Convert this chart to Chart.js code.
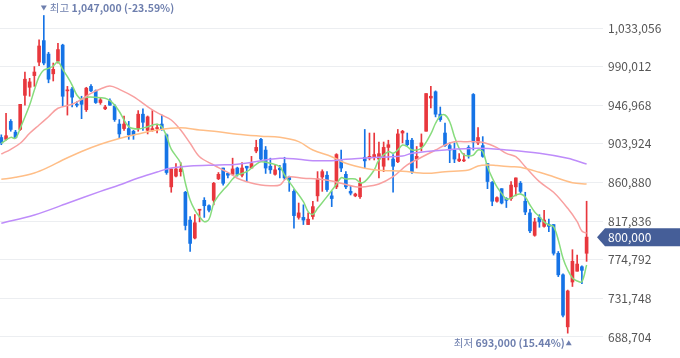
<!DOCTYPE html>
<html>
<head>
<meta charset="utf-8">
<script src="https://cdn.jsdelivr.net/npm/chart.js@4"></script>
<style>
    html, body { margin: 0; padding: 0; background: #fff; }
</style>
</head>
<body>
<canvas id="chartCandle" width="680" height="358"></canvas>
<script>
// daily candles, won
const openPrices = [
    911000, 909000, 929000, 917000, 920000, 958000, 967000, 980000, 995000, 1019000,
    1004000, 982000, 996000, 1014000, 963000, 965000, 948000, 953000, 942000, 968000,
    963000, 950000, 943000, 952000, 946000, 926000, 921000, 921000, 918000, 921000,
    937000, 919000, 919000, 921000, 926000, 914000, 856000, 868000, 873000, 850000,
    819000, 799000, 830000, 841000, 835000, 841000, 865000, 877000, 871000, 870000,
    877000, 869000, 879000, 877000, 896000, 909000, 897000, 879000, 870000, 877000,
    882000, 867000, 851000, 822000, 822000, 814000, 823000, 846000, 867000, 869000,
    846000, 856000, 885000, 870000, 851000, 846000, 845000, 889000, 888000, 889000,
    887000, 879000, 900000, 887000, 884000, 916000, 908000, 908000, 887000, 901000,
    918000, 955000, 962000, 937000, 916000, 902000, 897000, 885000, 885000, 900000,
    959000, 905000, 902000, 882000, 861000, 840000, 854000, 843000, 843000, 856000,
    860000, 840000, 827000, 802000, 822000, 812000, 814000, 814000, 782000, 758000,
    700000, 750000, 762000, 767000, 782000
];
const highPrices = [
    914000, 938000, 931000, 919000, 948000, 984000, 977000, 990000, 1020000, 1047000,
    1006000, 994000, 1016000, 1015000, 968000, 967000, 951000, 957000, 967000, 970000,
    964000, 955000, 947000, 954000, 948000, 931000, 935000, 929000, 919000, 941000,
    943000, 935000, 941000, 926000, 936000, 915000, 876000, 882000, 883000, 851000,
    823000, 825000, 831000, 844000, 836000, 861000, 872000, 877000, 872000, 888000,
    878000, 883000, 879000, 890000, 908000, 910000, 901000, 888000, 880000, 880000,
    889000, 868000, 853000, 838000, 836000, 827000, 840000, 873000, 875000, 873000,
    851000, 893000, 897000, 873000, 857000, 849000, 866000, 920000, 916000, 916000,
    906000, 906000, 908000, 892000, 920000, 919000, 916000, 910000, 901000, 915000,
    960000, 968000, 963000, 945000, 927000, 905000, 905000, 893000, 893000, 902000,
    960000, 922000, 912000, 882000, 862000, 845000, 854000, 844000, 862000, 866000,
    862000, 850000, 831000, 821000, 825000, 830000, 820000, 814000, 784000, 759000,
    741000, 786000, 780000, 768000, 840000
];
const lowPrices = [
    903000, 908000, 918000, 910000, 919000, 947000, 957000, 968000, 991000, 992000,
    972000, 974000, 994000, 946000, 936000, 945000, 945000, 932000, 940000, 962000,
    949000, 948000, 942000, 947000, 929000, 910000, 919000, 909000, 909000, 918000,
    919000, 915000, 918000, 916000, 919000, 870000, 850000, 867000, 868000, 808000,
    784000, 798000, 817000, 822000, 828000, 836000, 864000, 858000, 866000, 869000,
    868000, 867000, 862000, 877000, 894000, 886000, 871000, 871000, 869000, 866000,
    864000, 851000, 810000, 820000, 814000, 814000, 820000, 840000, 851000, 851000,
    834000, 854000, 873000, 854000, 847000, 845000, 843000, 877000, 886000, 886000,
    866000, 873000, 886000, 850000, 883000, 905000, 902000, 871000, 877000, 896000,
    918000, 944000, 934000, 929000, 901000, 883000, 883000, 884000, 884000, 888000,
    897000, 903000, 889000, 854000, 835000, 839000, 837000, 833000, 841000, 846000,
    849000, 825000, 805000, 801000, 811000, 811000, 806000, 780000, 756000, 711000,
    693000, 745000, 762000, 748000, 773000
];
const closePrices = [
    905000, 913000, 920000, 911000, 948000, 976000, 973000, 984000, 1013000, 994000,
    976000, 987000, 1009000, 957000, 964000, 956000, 947000, 948000, 966000, 963000,
    950000, 953000, 945000, 947000, 931000, 915000, 926000, 914000, 914000, 937000,
    928000, 934000, 921000, 922000, 920000, 872000, 876000, 876000, 876000, 813000,
    793000, 816000, 831000, 835000, 830000, 860000, 870000, 860000, 869000, 876000,
    870000, 877000, 877000, 882000, 900000, 887000, 877000, 875000, 875000, 875000,
    866000, 864000, 824000, 827000, 819000, 820000, 834000, 865000, 873000, 853000,
    843000, 892000, 877000, 856000, 849000, 848000, 860000, 885000, 890000, 892000,
    893000, 900000, 903000, 879000, 915000, 918000, 903000, 873000, 890000, 905000,
    960000, 957000, 937000, 931000, 902000, 897000, 887000, 887000, 886000, 892000,
    906000, 911000, 890000, 862000, 840000, 844000, 838000, 841000, 858000, 866000,
    851000, 828000, 807000, 817000, 817000, 819000, 812000, 782000, 758000, 713000,
    740000, 773000, 770000, 763000, 800000
];

// moving averages: [candle index, value]
const ma5 = [
    [0, 904600], [2, 911200], [3, 910100], [4, 921300], [6, 947200], [7, 964000], [8, 978800],
    [9, 986200], [10, 988100], [11, 990700], [12, 995500], [13, 987000], [14, 978800], [15, 969500],
    [16, 958400], [17, 953600], [18, 955800], [20, 955800], [22, 954700], [23, 952000], [24, 947200],
    [25, 940000], [27, 923100], [29, 920500], [31, 923100], [33, 925700], [34, 923100], [35, 912700],
    [36, 898000], [38, 882300], [39, 860000], [40, 841400], [41, 830200], [42, 822800], [43, 817200],
    [44, 819900], [45, 837700], [46, 846200], [47, 852500], [48, 858100], [49, 864800], [50, 869200],
    [52, 872900], [54, 881200], [55, 884100], [57, 882300], [59, 878500], [60, 869200], [62, 854400],
    [64, 839500], [65, 828400], [66, 825400], [67, 832100], [69, 845100], [71, 858900], [72, 866200],
    [73, 864800], [75, 864800], [76, 860700], [77, 861800], [79, 874800], [80, 886000], [82, 895200],
    [83, 893400], [84, 897100], [85, 902700], [86, 900800], [87, 897100], [89, 899000], [91, 915000],
    [92, 926900], [93, 935000], [94, 936100], [95, 928600], [96, 912000], [97, 899000], [98, 891500],
    [99, 890400], [100, 891500], [101, 897100], [102, 895200], [103, 878500], [104, 866000], [105, 855900],
    [106, 848800], [107, 842500], [108, 843600], [109, 846900], [110, 848000], [111, 844700], [112, 835800],
    [113, 828000], [114, 822800], [115, 817000], [116, 813500], [117, 811600], [118, 796800], [119, 776400],
    [120, 763400], [121, 754500], [122, 751100], [123, 750300], [124, 769000]
];
const ma20 = [
    [0, 892600], [2, 897900], [4, 904600], [6, 915700], [8, 925000], [10, 934200], [12, 943600],
    [15, 948000], [17, 953600], [19, 960300], [21, 965100], [23, 968400], [25, 964700], [28, 956500],
    [32, 941700], [34, 936100], [36, 930500], [38, 919400], [40, 904600], [42, 889600], [45, 880400],
    [47, 874800], [49, 869200], [50, 865600], [52, 861800], [55, 858100], [57, 857300], [59, 858100],
    [60, 863700], [61, 867300], [64, 865600], [67, 864800], [70, 862600], [72, 860000], [75, 856200],
    [77, 856200], [80, 859200], [83, 867300], [86, 880400], [89, 889000], [92, 897100], [94, 902700],
    [96, 906400], [98, 906400], [100, 906400], [102, 905700], [105, 899700], [107, 893400], [109, 889600],
    [111, 878500], [114, 861800], [117, 850000], [120, 832100], [122, 817200], [123, 806800], [124, 804300]
];
const ma60 = [
    [0, 864400], [3, 866700], [7, 871500], [10, 878000], [13, 886000], [17, 895500], [21, 903500],
    [25, 910000], [29, 915000], [33, 919500], [38, 921900], [42, 919400], [46, 917500], [50, 914600],
    [55, 912500], [59, 911200], [63, 906400], [66, 897100], [70, 889600], [73, 882300], [77, 876700],
    [80, 874400], [85, 873500], [90, 871100], [94, 872900], [99, 874800], [101, 879300], [103, 880400],
    [105, 879700], [108, 878500], [110, 877800], [114, 872200], [117, 867300], [121, 860700], [124, 859200]
];
const ma120 = [
    [0, 815400], [7, 824700], [14, 837700], [21, 851000], [25, 858100], [29, 865900], [33, 872600],
    [36, 877000], [40, 879300], [46, 880400], [50, 881200], [59, 887800], [63, 886700], [66, 885200],
    [70, 885200], [73, 886700], [80, 889000], [85, 890400], [87, 893400], [94, 897100], [101, 899000],
    [107, 897100], [114, 893400], [120, 887800], [124, 881500]
];

const yTicks = [688704, 731748, 774792, 817836, 860880, 903924, 946968, 990012, 1033056];

const upColor = '#e8373d';
const downColor = '#1573e6';
const noteColor = '#6e7fae';
const fontFamily = '"Noto Sans CJK KR", "Noto Sans", sans-serif';

const candleColors = openPrices.map((o, i) => closePrices[i] >= o ? upColor : downColor);

function maLine(points, color) {
    return {
        type: 'line',
        data: points.map(p => ({ x: p[0], y: p[1] })),
        borderColor: color,
        borderWidth: 1.5,
        pointRadius: 0,
        tension: 0.35,
        order: 0
    };
}

// 최고 / 최저 labels and the current price tag
const markerPlugin = {
    id: 'markers',
    afterDraw(chart) {
        const ctx = chart.ctx;
        const xs = chart.scales.x, ys = chart.scales.y;
        const area = chart.chartArea;
        const last = closePrices[closePrices.length - 1];

        let hiIdx = 0, loIdx = 0;
        highPrices.forEach((v, i) => { if (v > highPrices[hiIdx]) hiIdx = i; });
        lowPrices.forEach((v, i) => { if (v < lowPrices[loIdx]) loIdx = i; });
        const hi = highPrices[hiIdx], lo = lowPrices[loIdx];
        const hiPct = ((last / hi - 1) * 100).toFixed(2);
        const loPct = ((last / lo - 1) * 100).toFixed(2);

        ctx.save();
        ctx.fillStyle = noteColor;
        ctx.textBaseline = 'middle';

        // high
        let px = xs.getPixelForValue(hiIdx);
        let ty = ys.getPixelForValue(hi) - 7;
        ctx.beginPath();
        ctx.moveTo(px - 3, ty - 3);
        ctx.lineTo(px + 3, ty - 3);
        ctx.lineTo(px, ty + 2);
        ctx.fill();
        ctx.textAlign = 'left';
        ctx.font = '10.5px ' + fontFamily;
        ctx.fillText('최고', px + 6, ty);
        let w = ctx.measureText('최고 ').width;
        ctx.font = 'bold 10.5px ' + fontFamily;
        ctx.fillText(hi.toLocaleString('en-US') + ' (' + hiPct + '%)', px + 6 + w, ty);

        // low
        px = xs.getPixelForValue(loIdx) + 1;
        ty = ys.getPixelForValue(lo) + 10;
        ctx.beginPath();
        ctx.moveTo(px - 3, ty + 2);
        ctx.lineTo(px + 3, ty + 2);
        ctx.lineTo(px, ty - 3);
        ctx.fill();
        ctx.textAlign = 'right';
        ctx.font = 'bold 10.5px ' + fontFamily;
        const loText = lo.toLocaleString('en-US') + ' (' + loPct + '%)';
        ctx.fillText(loText, px - 4, ty);
        w = ctx.measureText(loText).width;
        ctx.font = '10.5px ' + fontFamily;
        ctx.fillText('최저 ', px - 4 - w, ty);

        // current price tag
        const py = ys.getPixelForValue(last);
        const left = area.right + 7;
        ctx.fillStyle = '#455e98';
        ctx.beginPath();
        ctx.moveTo(left, py);
        ctx.lineTo(left + 8, py - 9);
        ctx.lineTo(chart.width, py - 9);
        ctx.lineTo(chart.width, py + 9);
        ctx.lineTo(left + 8, py + 9);
        ctx.closePath();
        ctx.fill();
        ctx.fillStyle = '#ffffff';
        ctx.textAlign = 'left';
        ctx.font = '12px ' + fontFamily;
        ctx.fillText(last.toLocaleString('en-US'), area.right + 18, py + 0.5);
        ctx.restore();
    }
};

new Chart(document.getElementById('chartCandle'), {
    type: 'bar',
    data: {
        datasets: [
            maLine(ma120, 'rgba(190,140,250,1)'),
            maLine(ma60, 'rgba(255,190,135,1)'),
            maLine(ma20, 'rgba(248,160,160,1)'),
            maLine(ma5, 'rgba(135,220,125,1)'),
            {
                // wicks
                data: highPrices.map((h, i) => ({ x: i, y: [lowPrices[i], h] })),
                backgroundColor: candleColors,
                barThickness: 1,
                grouped: false,
                order: 2
            },
            {
                // bodies
                data: openPrices.map((o, i) => ({ x: i, y: [o, closePrices[i]] })),
                backgroundColor: candleColors,
                barThickness: 3,
                minBarLength: 1,
                grouped: false,
                order: 1
            }
        ]
    },
    options: {
        responsive: false,
        animation: false,
        events: [],
        layout: { padding: 0 },
        plugins: {
            legend: { display: false },
            tooltip: { enabled: false }
        },
        scales: {
            x: {
                type: 'linear',
                display: false,
                offset: false,
                min: -0.28,
                max: 124.72
            },
            y: {
                position: 'right',
                min: 665300,
                max: 1064260,
                afterBuildTicks: function (scale) {
                    scale.ticks = yTicks.map(v => ({ value: v }));
                },
                afterFit: function (scale) {
                    scale.width = 90;
                    scale.paddingTop = 0;
                    scale.paddingBottom = 0;
                },
                border: { display: false },
                grid: { color: '#eceef1', tickLength: 13 },
                ticks: {
                    color: '#555555',
                    padding: 5,
                    font: { size: 12, family: fontFamily },
                    callback: v => v.toLocaleString('en-US')
                }
            }
        }
    },
    plugins: [markerPlugin]
});
</script>
</body>
</html>
